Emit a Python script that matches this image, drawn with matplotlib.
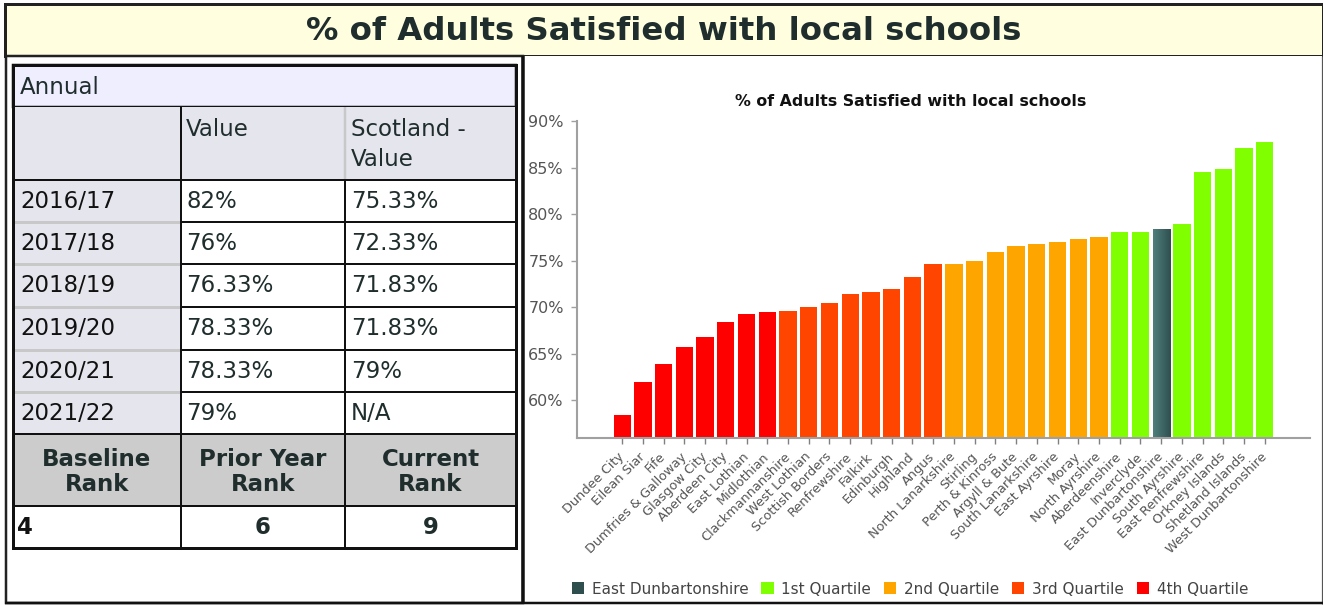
import matplotlib
matplotlib.use("Agg")
import matplotlib.pyplot as plt
from matplotlib.patches import Rectangle, Patch
from matplotlib.colors import LinearSegmentedColormap
import numpy as np

# ---- data -------------------------------------------------------------
councils = [
    "Dundee City", "Eilean Siar", "Fife", "Dumfries & Galloway", "Glasgow City",
    "Aberdeen City", "East Lothian", "Midlothian", "Clackmannanshire", "West Lothian",
    "Scottish Borders", "Renfrewshire", "Falkirk", "Edinburgh", "Highland", "Angus",
    "North Lanarkshire", "Stirling", "Perth & Kinross", "Argyll & Bute",
    "South Lanarkshire", "East Ayrshire", "Moray", "North Ayrshire", "Aberdeenshire",
    "Inverclyde", "East Dunbartonshire", "South Ayrshire", "East Renfrewshire",
    "Orkney Islands", "Shetland Islands", "West Dunbartonshire",
]
satisfied = [
    58.4, 61.9, 63.9, 65.7, 66.8, 68.4, 69.3, 69.5, 69.6, 70.0, 70.4, 71.4, 71.6,
    71.9, 73.2, 74.6, 74.6, 74.95, 75.9, 76.6, 76.8, 77.0, 77.3, 77.5, 78.1, 78.1,
    78.33, 79.0, 84.6, 84.9, 87.1, 87.8,
]
quartile = [4] * 8 + [3] * 8 + [2] * 8 + [1] * 8
highlight = "East Dunbartonshire"

years = ["2016/17", "2017/18", "2018/19", "2019/20", "2020/21", "2021/22"]
value_col = ["82%", "76%", "76.33%", "78.33%", "78.33%", "79%"]
scotland_col = ["75.33%", "72.33%", "71.83%", "71.83%", "79%", "N/A"]
rank_titles = ["Baseline\nRank", "Prior Year\nRank", "Current\nRank"]
rank_values = ["4", "6", "9"]

quartile_colors = {1: "#7FFF00", 2: "#FFA500", 3: "#FF4500", 4: "#FF0000"}
highlight_color = "#2F4F4F"
legend_labels = ["East Dunbartonshire", "1st Quartile", "2nd Quartile",
                 "3rd Quartile", "4th Quartile"]

# ---- figure -----------------------------------------------------------
W, H = 1323, 605
fig = plt.figure(figsize=(W / 100, H / 100), dpi=100)
fig.patch.set_facecolor("white")
plt.rcParams["font.family"] = ["DejaVu Sans"]

bg = fig.add_axes([0, 0, 1, 1])
bg.set_xlim(0, W)
bg.set_ylim(H, 0)
bg.axis("off")

PX = 0.72  # one pixel in points
TXT = "#1f2d2d"


def rect(x0, y0, x1, y1, fc="none", ec="none", lw=0, z=1):
    bg.add_patch(Rectangle((x0, y0), x1 - x0, y1 - y0, facecolor=fc,
                           edgecolor=ec, linewidth=lw * PX, zorder=z))


def hline(y, x0, x1, color, lw, z=3):
    bg.plot([x0, x1], [y, y], color=color, lw=lw * PX, zorder=z,
            solid_capstyle="butt")


def vline(x, y0, y1, color, lw, z=3):
    bg.plot([x, x], [y0, y1], color=color, lw=lw * PX, zorder=z,
            solid_capstyle="butt")


# title band
rect(5, 4, 1323, 56, fc="#FFFFE0", ec="#222222", lw=3, z=1)
bg.text(664, 31, "% of Adults Satisfied with local schools", ha="center",
        va="center", fontsize=23.3, fontweight="bold", color=TXT, zorder=5)

# panels
rect(6, 56, 523, 603, fc="white", ec="#222222", lw=2.5, z=1)
rect(523, 56, 1322, 603, fc="white", ec="none", z=1)
vline(523, 56, 604, "#111111", 3.5, z=4)
vline(1321.5, 56, 604, "#555555", 1.2, z=4)
hline(603, 5, 1323, "#111111", 2.5, z=4)

# ---- table ------------------------------------------------------------
tx0, tx1 = 13, 516
cx = [13, 181, 345, 516]
rows_y = [180, 222, 264, 307, 350, 392, 434]
FS = 16.5

# Annual row
rect(tx0, 65, tx1, 107, fc="#EEEEFF", ec="#111111", lw=2.5, z=2)
bg.text(20, 87, "Annual", ha="left", va="center", fontsize=FS, color=TXT, zorder=5)

# header row + year column background
rect(tx0, 107, tx1, 180, fc="#E5E5EE", z=2)
rect(tx0, 180, cx[1], 434, fc="#E5E5EE", z=2)
vline(cx[1], 107, 180, "#111111", 2, z=3)
vline(cx[2], 107, 180, "#C8C8C8", 2.5, z=3)
hline(180, tx0, tx1, "#111111", 2, z=3)
bg.text(186, 130, "Value", ha="left", va="center", fontsize=FS, color=TXT, zorder=5)
bg.text(351, 130, "Scotland -", ha="left", va="center", fontsize=FS, color=TXT, zorder=5)
bg.text(351, 159, "Value", ha="left", va="center", fontsize=FS, color=TXT, zorder=5)

for i, yr in enumerate(years):
    y0, y1 = rows_y[i], rows_y[i + 1]
    yc = (y0 + y1) / 2
    if i > 0:
        hline(y0, tx0 + 1, cx[1] - 1, "#C8C8C8", 3, z=3)
    rect(cx[1], y0, cx[2], y1, fc="white", ec="#111111", lw=2, z=3)
    rect(cx[2], y0, cx[3], y1, fc="white", ec="#111111", lw=2, z=3)
    bg.text(20, yc, yr, ha="left", va="center", fontsize=FS, color="#111111", zorder=5)
    bg.text(186, yc, value_col[i], ha="left", va="center", fontsize=FS, color=TXT, zorder=5)
    bg.text(351, yc, scotland_col[i], ha="left", va="center", fontsize=FS, color=TXT, zorder=5)

# rank rows
for j in range(3):
    rect(cx[j], 434, cx[j + 1], 506, fc="#CCCCCC", ec="#111111", lw=2, z=3)
    rect(cx[j], 506, cx[j + 1], 548, fc="white", ec="#111111", lw=2, z=3)
    xc = (cx[j] + cx[j + 1]) / 2
    bg.text(xc, 472, rank_titles[j], ha="center", va="center", fontsize=FS,
            fontweight="bold", color=TXT, linespacing=1.08, zorder=5)
    if j == 0:
        bg.text(17, 527, rank_values[j], ha="left", va="center", fontsize=FS,
                fontweight="bold", color="#111111", zorder=5)
    else:
        bg.text(xc, 527, rank_values[j], ha="center", va="center", fontsize=FS,
                fontweight="bold", color=TXT, zorder=5)

# table outline
rect(tx0, 65, tx1, 548, ec="#111111", lw=3, z=4)

# ---- bar chart --------------------------------------------------------
left, right, top, bottom = 577, 1310, 121.4, 438
ax = fig.add_axes([left / W, 1 - bottom / H, (right - left) / W, (bottom - top) / H])
ax.set_zorder(3)
ax.patch.set_alpha(0)

ymin, ymax = 55.9, 90
x = np.arange(len(councils))
colors = [highlight_color if c == highlight else quartile_colors[q]
          for c, q in zip(councils, quartile)]
bars = ax.bar(x, satisfied, width=0.835, color=colors, zorder=2)

# shaded fill for the highlighted council's bar
hi = councils.index(highlight)
hb = bars[hi]
hb.set_facecolor("none")
grad = np.linspace(0, 1, 64).reshape(1, -1)
cmap = LinearSegmentedColormap.from_list("hl", ["#4F7F7C", "#2F4F4F"])
bx, bw = hb.get_x(), hb.get_width()
ax.imshow(grad, cmap=cmap, aspect="auto",
          extent=(bx, bx + bw, ymin, satisfied[hi]),
          zorder=2, interpolation="bilinear")

ax.set_xlim(-2.18, len(councils) - 1 + 2.18)
ax.set_ylim(ymin, ymax)
ax.set_yticks([60, 65, 70, 75, 80, 85, 90])
ax.set_yticklabels([f"{v}%" for v in [60, 65, 70, 75, 80, 85, 90]])
ax.set_xticks(x)
ax.set_xticklabels(councils, rotation=45, ha="right", va="center",
                   rotation_mode="anchor")

for s in ["top", "right"]:
    ax.spines[s].set_visible(False)
for s in ["left", "bottom"]:
    ax.spines[s].set_color("#A0A0A0")
    ax.spines[s].set_linewidth(1.5)
ax.tick_params(axis="y", length=4, width=1, color="#A0A0A0", pad=5.5,
               labelsize=11.5, labelcolor="#555555")
ax.tick_params(axis="x", length=4, width=1, color="#808080", pad=8,
               labelsize=9.3, labelcolor="#555555")

fig.text(911 / W, 1 - 101 / H, "% of Adults Satisfied with local schools",
         ha="center", va="center", fontsize=11.4, fontweight="bold", color="#111111")

handles = [Patch(facecolor=highlight_color)] + \
          [Patch(facecolor=quartile_colors[q]) for q in [1, 2, 3, 4]]
fig.legend(handles, legend_labels, loc="center", bbox_to_anchor=(910 / W, 1 - 589 / H),
           ncol=5, frameon=False, fontsize=11, labelcolor="#444444",
           handlelength=0.8, handleheight=0.8, handletextpad=0.5,
           columnspacing=0.85, borderpad=0)

fig.savefig("out.png", dpi=100)
